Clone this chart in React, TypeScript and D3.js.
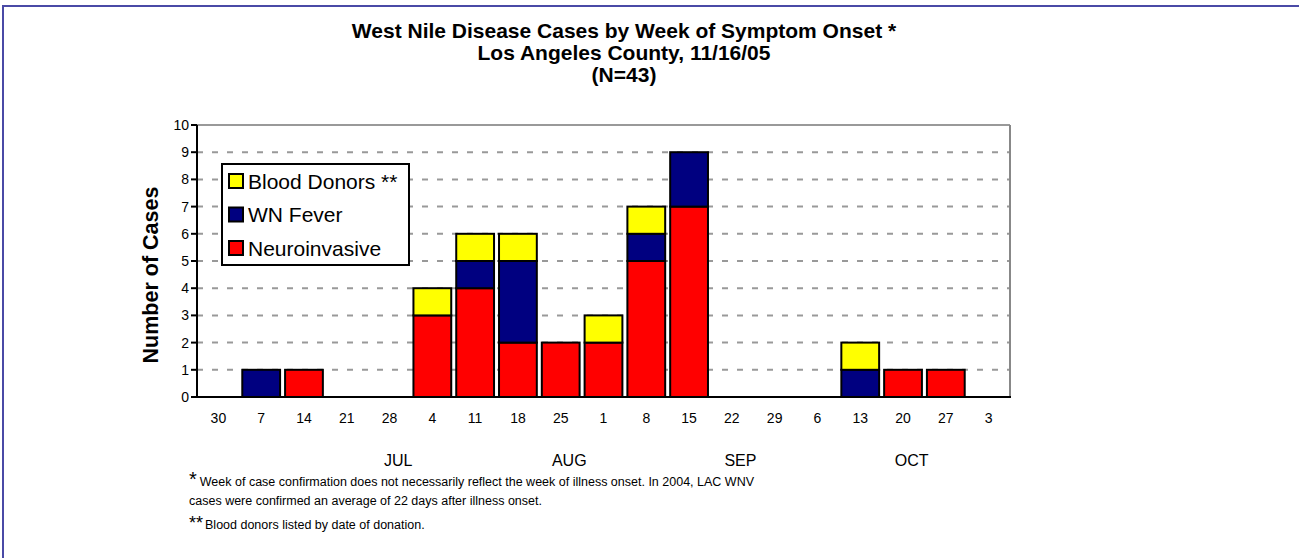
import React from "react";
import * as d3 from "d3";

const weeks = ["30", "7", "14", "21", "28", "4", "11", "18", "25", "1", "8", "15", "22", "29", "6", "13", "20", "27", "3"];
const neuroinvasive = [0, 0, 1, 0, 0, 3, 4, 2, 2, 2, 5, 7, 0, 0, 0, 0, 1, 1, 0];
const wnFever = [0, 1, 0, 0, 0, 0, 1, 3, 0, 0, 1, 2, 0, 0, 0, 1, 0, 0, 0];
const bloodDonors = [0, 0, 0, 0, 0, 1, 1, 1, 0, 1, 1, 0, 0, 0, 0, 1, 0, 0, 0];
const yTicks = [0, 1, 2, 3, 4, 5, 6, 7, 8, 9, 10];
const months = ["JUL", "AUG", "SEP", "OCT"];
const monthWeekIndex = [4, 8, 12, 16];

const seriesNames = ["Neuroinvasive", "WN Fever", "Blood Donors **"];
const seriesColors = ["#FF0000", "#000080", "#FFFF00"];

const FONT = "'Liberation Sans', Arial, Helvetica, sans-serif";

export default function App() {
  const W = 1299;
  const H = 558;
  const left = 197, right = 1010, top = 125, bottom = 397;

  const idx = weeks.map((_, i) => i);
  const x = d3.scaleBand<number>().domain(idx).range([left, right]).paddingInner(0.07).paddingOuter(0.035);
  const y = d3.scaleLinear().domain([0, 10]).range([bottom, top]);

  const table = idx.map((i) => ({ i, n: neuroinvasive[i], f: wnFever[i], b: bloodDonors[i] }));
  const stack = d3.stack<any>().keys(["n", "f", "b"])(table);

  const step = x.step();

  return (
    <svg width={W} height={H} style={{ position: "absolute", left: 0, top: 0, display: "block" }} fontFamily={FONT}>
      <rect x={0} y={0} width={W} height={H} fill="#fff" />
      {/* outer frame */}
      <rect x={3} y={6} width={W + 20} height={H + 20} fill="none" stroke="#4a4aa6" strokeWidth={2} />

      {/* title */}
      <g textAnchor="middle" fontWeight="bold" fontSize={21} fill="#000">
        <text x={624} y={38}>West Nile Disease Cases by Week of Symptom Onset *</text>
        <text x={624} y={60}>Los Angeles County, 11/16/05</text>
        <text x={624} y={82}>(N=43)</text>
      </g>

      {/* gridlines */}
      {yTicks.filter((t) => t > 0 && t < 10).map((t) => (
        <line key={t} x1={left} x2={right} y1={y(t)} y2={y(t)} stroke="#999" strokeWidth={2} strokeDasharray="6,9" />
      ))}
      {/* plot border top/right */}
      <line x1={left} x2={right} y1={top} y2={top} stroke="#999" strokeWidth={2} />
      <line x1={right} x2={right} y1={top} y2={bottom} stroke="#888" strokeWidth={2} />

      {/* bars */}
      {stack.map((s, si) => (
        <g key={si} fill={seriesColors[si]} stroke="#000" strokeWidth={2}>
          {s.map((d: any, j: number) =>
            d[1] - d[0] > 0 ? (
              <rect key={j} x={x(j)! + 1} y={y(d[1])} width={x.bandwidth() - 2} height={y(d[0]) - y(d[1])} />
            ) : null
          )}
        </g>
      ))}

      {/* axes */}
      <line x1={left} x2={left} y1={top} y2={bottom + 1} stroke="#000" strokeWidth={2} />
      <line x1={left - 1} x2={right + 1} y1={bottom} y2={bottom} stroke="#000" strokeWidth={2} />
      {yTicks.map((t) => (
        <g key={t}>
          <line x1={left - 6} x2={left} y1={y(t)} y2={y(t)} stroke="#000" strokeWidth={2} />
          <text x={left - 8} y={y(t)} dy="0.36em" textAnchor="end" fontSize={14}>{t}</text>
        </g>
      ))}
      {weeks.map((w, i) => (
        <text key={i} x={x(i)! + x.bandwidth() / 2} y={423} textAnchor="middle" fontSize={14}>{w}</text>
      ))}
      {months.map((m, k) => (
        <text key={m} x={x(monthWeekIndex[k])! + x.bandwidth() / 2 + step * 0.2} y={466} textAnchor="middle" fontSize={16}>{m}</text>
      ))}

      {/* y label */}
      <text transform={`translate(158,275) rotate(-90)`} textAnchor="middle" fontWeight="bold" fontSize={21.5}>Number of Cases</text>

      {/* legend */}
      <rect x={222} y={164} width={187} height={101} fill="#fff" stroke="#000" strokeWidth={2} />
      {[2, 1, 0].map((si, r) => (
        <g key={si} transform={`translate(0,${181 + r * 33.5})`}>
          <rect x={229} y={-7} width={14} height={14} fill={seriesColors[si]} stroke="#000" strokeWidth={2} />
          <text x={248} y={0} dy="0.36em" fontSize={21}>{seriesNames[si]}</text>
        </g>
      ))}

      {/* footnotes */}
      <g fontSize={12.5} fill="#000">
        <text x={189} y={486}><tspan fontSize={20} dy={0}>*</tspan><tspan dx={3}>Week of case confirmation does not necessarily reflect the week of illness onset. In 2004, LAC WNV</tspan></text>
        <text x={189} y={505}>cases were confirmed an average of 22 days after illness onset.</text>
        <text x={189} y={529}><tspan fontSize={18}>**</tspan><tspan dx={2}>Blood donors listed by date of donation.</tspan></text>
      </g>
    </svg>
  );
}
